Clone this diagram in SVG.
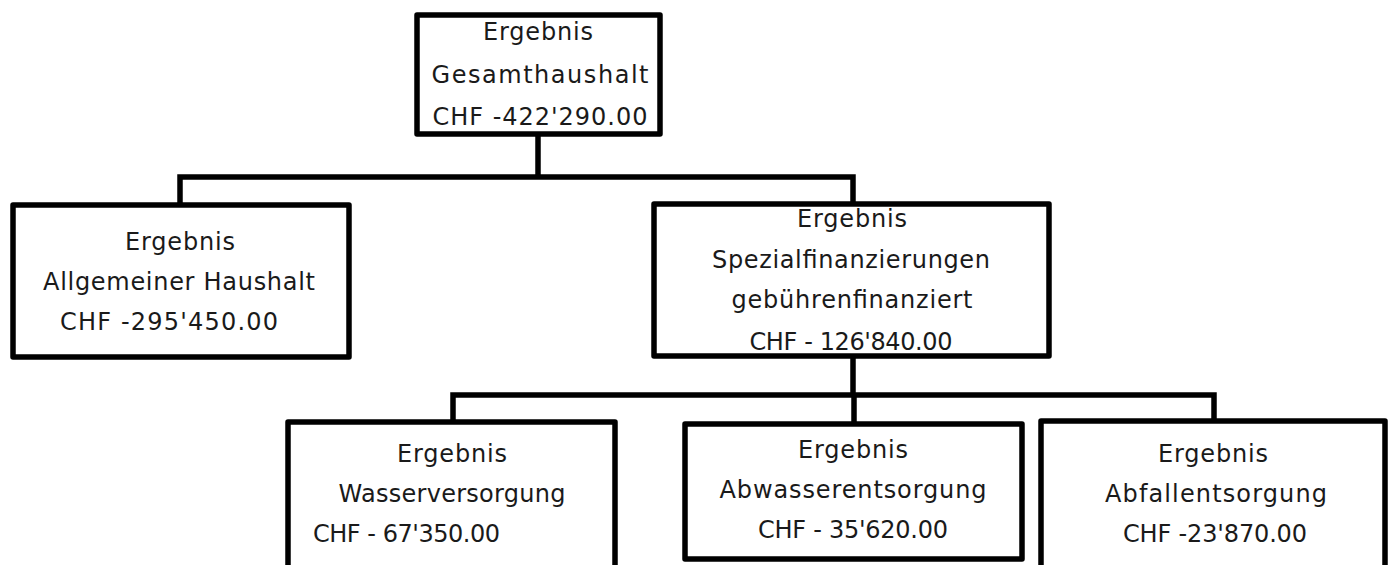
<svg xmlns="http://www.w3.org/2000/svg" width="1393" height="565" viewBox="0 0 1393 565">
<style>
.box{fill:#fff;stroke:#000;stroke-width:5.5;stroke-linejoin:round}
.conn{fill:none;stroke:#000;stroke-width:5.5;stroke-linejoin:miter}
text{font-family:"DejaVu Sans","Liberation Sans",sans-serif;font-size:24px;fill:#1a1a1a;text-anchor:middle}
.l{text-anchor:start}
</style>
<rect width="1393" height="565" fill="#fff"/>
<g id="connectors">
<path class="conn" d="M538,134 V177 M180,205 V177 H853 V205"/>
<path class="conn" d="M853,356 V395 M453,421 V395 H1214 V421 M854,395 V423"/>
</g>
<g id="n-gesamt">
<rect class="box" x="417" y="15" width="243" height="119"/>
<text x="538" y="40" textLength="110">Ergebnis</text>
<text x="540" y="83" textLength="217">Gesamthaushalt</text>
<text x="540" y="125" textLength="215">CHF -422'290.00</text>
</g>
<g id="n-allgemein">
<rect class="box" x="13" y="205" width="336" height="152"/>
<text x="180" y="250" textLength="110">Ergebnis</text>
<text x="179" y="290" textLength="272">Allgemeiner Haushalt</text>
<text x="169" y="330" textLength="218">CHF -295'450.00</text>
</g>
<g id="n-spezial">
<rect class="box" x="654" y="204" width="395" height="152"/>
<text x="852" y="227" textLength="110">Ergebnis</text>
<text x="851" y="268" textLength="278">Spezialfinanzierungen</text>
<text x="852" y="308" textLength="241">gebührenfinanziert</text>
<text x="851" y="350" textLength="203">CHF - 126'840.00</text>
</g>
<g id="n-wasser">
<rect class="box" x="288" y="422" width="327" height="150"/>
<text x="452" y="462" textLength="110">Ergebnis</text>
<text x="452" y="502" textLength="227">Wasserversorgung</text>
<text class="l" x="313" y="542" textLength="187">CHF - 67'350.00</text>
</g>
<g id="n-abwasser">
<rect class="box" x="685" y="424" width="337" height="135"/>
<text x="853" y="458" textLength="110">Ergebnis</text>
<text x="853" y="498" textLength="267">Abwasserentsorgung</text>
<text x="853" y="538" textLength="190">CHF - 35'620.00</text>
</g>
<g id="n-abfall">
<rect class="box" x="1041" y="421" width="344" height="150"/>
<text x="1213" y="462" textLength="110">Ergebnis</text>
<text x="1216" y="502" textLength="222">Abfallentsorgung</text>
<text x="1215" y="542" textLength="184">CHF -23'870.00</text>
</g>
</svg>
